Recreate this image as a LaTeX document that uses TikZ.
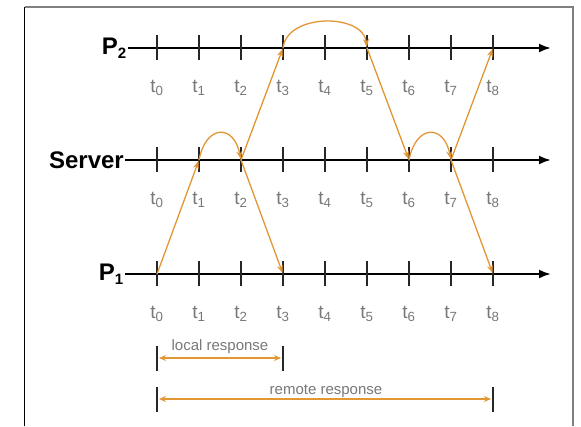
\documentclass[tikz,border=0pt]{standalone}
\usepackage{fontspec}
\setmainfont{Liberation Sans}
\usetikzlibrary{arrows.meta, positioning}
\definecolor{msgorange}{RGB}{226,150,52}
\definecolor{lblgray}{RGB}{120,120,120}

\begin{document}
\begin{tikzpicture}[x=1pt, y=-1pt,
  proc/.style={font=\fontsize{24}{24}\selectfont\bfseries, anchor=east, inner sep=1pt},
  axis/.style={line width=2.2pt, -{Latex[length=12pt, width=9pt]}},
  tick/.style={line width=2.8pt, black!85},
  tlbl/.style={text=lblgray, font=\fontsize{19}{19}\selectfont, inner sep=0pt},
  msg/.style={draw=msgorange, line width=1.3pt, -{Stealth[length=8pt, width=6pt]}, shorten >=1pt},
  span/.style={draw=msgorange, line width=1.5pt, {Stealth[length=7pt, width=6pt]}-{Stealth[length=7pt, width=6pt]}, shorten <=2pt, shorten >=2pt},
  spanlbl/.style={text=lblgray, font=\fontsize{15}{15}\selectfont, inner sep=1pt}
]
  \useasboundingbox (0,0) rectangle (581,426);
  % frame
  \draw[black, line width=1.3pt] (24.5,426) -- (24.5,7);
  \draw[gray, line width=1.3pt] (24.5,7) -- (573,7) -- (573,426);

  % process lines
  \node[proc] (P2) at (128,48)  {P\textsubscript{\fontsize{15}{15}\selectfont 2}};
  \node[proc] (SV) at (125,160) {Server};
  \node[proc] (P1) at (125,274) {P\textsubscript{\fontsize{15}{15}\selectfont 1}};
  \coordinate (p2end) at (551,48);
  \coordinate (svend) at (551,160);
  \coordinate (p1end) at (551,274);
  \draw[axis] (P2.east) -- (p2end);
  \draw[axis] (SV.east) -- (svend);
  \draw[axis] (P1.east) -- (p1end);

  % ticks and time labels
  \foreach \i in {0,...,8} {
    \coordinate (p2-\i) at ({157+42*\i},48);
    \coordinate (sv-\i) at ({157+42*\i},160);
    \coordinate (p1-\i) at ({157+42*\i},274);
    \foreach \l in {p2,sv,p1} {
      \draw[tick] ([yshift=13pt]\l-\i) -- ([yshift=-12pt]\l-\i);
      \node[tlbl] (\l-t\i) at ([yshift=-40pt]\l-\i) {t\textsubscript{\i}};
    }
  }

  % messages
  \draw[msg] (p1-0) -- (sv-1);
  \draw[msg] (sv-1) .. controls +(7,-36) and +(-7,-36) .. (sv-2);
  \draw[msg] (sv-2) -- (p1-3);
  \draw[msg] (sv-2) -- (p2-3);
  \draw[msg] (p2-3) .. controls +(4,-35) and +(-4,-35) .. (p2-5);
  \draw[msg] (p2-5) -- (sv-6);
  \draw[msg] (sv-6) .. controls +(7,-36) and +(-7,-36) .. (sv-7);
  \draw[msg] (sv-7) -- (p2-8);
  \draw[msg] (sv-7) -- (p1-8);

  % response times
  \coordinate (loc-a) at (157,358);
  \coordinate (loc-b) at (283,358);
  \coordinate (rem-a) at (157,399);
  \coordinate (rem-b) at (493,399);
  \foreach \c in {loc-a,loc-b,rem-a,rem-b}
    \draw[tick] ([yshift=12pt]\c) -- ([yshift=-13pt]\c);
  \draw[span] (loc-a) -- (loc-b);
  \draw[span] (rem-a) -- (rem-b);
  \node[spanlbl] (loc) at (220,347) {local response};
  \node[spanlbl] (rem) at (326,391) {remote response};
\end{tikzpicture}
\end{document}
